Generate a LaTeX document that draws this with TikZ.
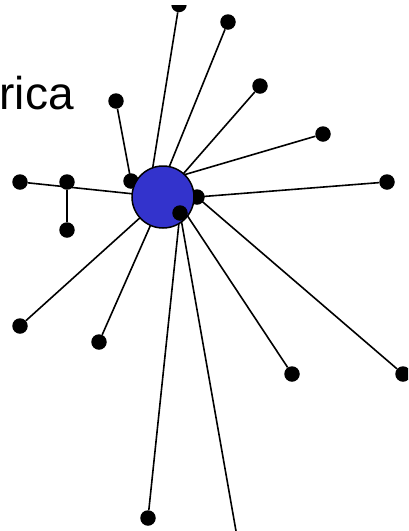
\documentclass[tikz,border=0pt]{standalone}
\usepackage{fontspec}
\setmainfont{Liberation Sans}
\usetikzlibrary{calc}
\pgfdeclarelayer{background}
\pgfsetlayers{background,main}
\definecolor{hubblue}{RGB}{51,51,204}

\begin{document}
\begin{tikzpicture}[x=1pt, y=-1pt,
    dot/.style={circle, fill=black, inner sep=0pt, minimum size=15.5pt},
    hubnode/.style={circle, draw=black, line width=1.5pt, fill=hubblue, inner sep=0pt, minimum size=62pt},
    link/.style={line width=1.6pt}]
  \useasboundingbox (0,0) rectangle (408,531);
  \clip (0,5.7) rectangle (408,531);
  \node[anchor=base east, inner sep=0pt, font=\fontsize{46}{50}\selectfont] (label) at (74,109) {rica};
  % leaves sitting behind the hub
  \node[dot] (i) at (131,181) {};
  \node[dot] (j) at (197,197) {};
  \node[hubnode] (hub) at (163,197) {};
  \node[dot] (k) at (180,213) {};
  % outer leaves
  \node[dot] (t) at (179,4.5) {};
  \node[dot] (a) at (228,22) {};
  \node[dot] (b) at (260,86) {};
  \node[dot] (c) at (323,134) {};
  \node[dot] (d) at (387,182) {};
  \node[dot] (e) at (116,101) {};
  \node[dot] (f) at (20,182) {};
  \node[dot] (g) at (67,182) {};
  \node[dot] (h) at (67,230) {};
  \node[dot] (l) at (20,326) {};
  \node[dot] (m) at (99,342) {};
  \node[dot] (n) at (292,374) {};
  \node[dot] (o) at (403,374) {};
  \node[dot] (p) at (148,518) {};
  \coordinate (q) at (236,531);
  \begin{pgfonlayer}{background}
    \draw[link] (t) -- ($(hub)+(-15,0)$);
    \draw[link] (a) -- ($(hub)+(-6,0)$);
    \draw[link] (b) -- (hub.center);
    \draw[link] (c) -- ($(hub)+(0,-16)$);
    \draw[link] (d) -- (j.center);
    \draw[link] (e) -- (i.center);
    \draw[link] (f) -- (hub.center);
    \draw[link] (g) -- (h);
    \draw[link] (l) -- (hub.center);
    \draw[link] (m) -- (hub.center);
    \draw[link] (n) -- ($(hub)+(12,0)$);
    \draw[link] (o) -- (j.center);
    \draw[link] (p) -- (k.center);
    \draw[link] (k.center) -- (q);
  \end{pgfonlayer}
\end{tikzpicture}
\end{document}
